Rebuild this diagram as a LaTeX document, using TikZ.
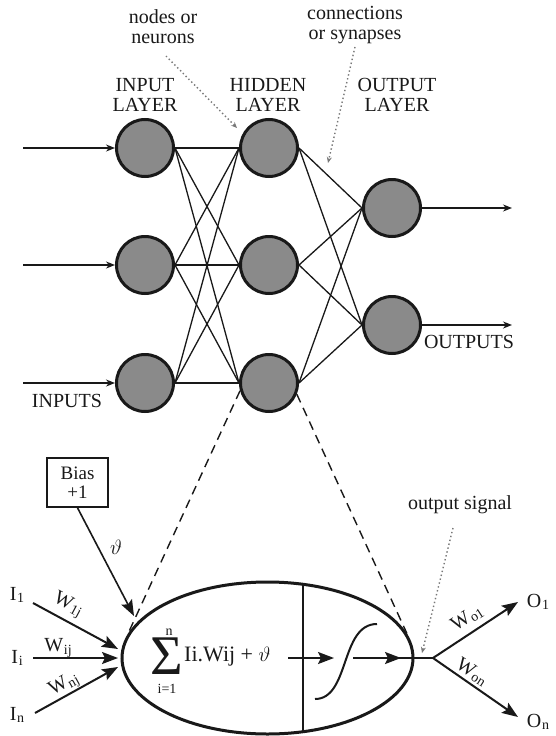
\documentclass[tikz,border=0pt]{standalone}
\usepackage{fontspec}
\setmainfont{Liberation Serif}
\usetikzlibrary{arrows.meta,shapes.geometric}
\definecolor{ink}{RGB}{25,25,25}
\definecolor{nodegray}{RGB}{138,138,138}
\definecolor{dotgray}{RGB}{120,120,120}
\newcommand{\fs}[1]{\fontsize{#1}{#1}\selectfont}
\newcommand{\lowtxt}[1]{\kern0.8pt\raisebox{-0.25ex}{\fontsize{14}{14}\selectfont #1}}
\begin{document}
\begin{tikzpicture}[x=1pt,y=-1pt,
  neuron/.style={circle, draw=ink, fill=nodegray, line width=3pt, minimum size=57pt, inner sep=0pt},
  lbl/.style={font=\fs{20}, text=ink, align=center, inner sep=0pt},
  conn/.style={draw=ink, line width=1.3pt},
  inarrow/.style={draw=ink, line width=1.5pt, -{Stealth[length=9pt,width=7pt]}},
  bigarrow/.style={draw=ink, line width=2pt, -{Stealth[length=16pt,width=12pt,inset=3pt]}},
  dotarrow/.style={draw=dotgray, line width=1.4pt, dash pattern=on 1.4pt off 2.6pt, -{Stealth[length=6pt,width=5pt]}},
  dashline/.style={draw=ink, line width=1.4pt, dash pattern=on 9pt off 6pt}]
\path[fill=white] (0,0) rectangle (555,736);
\useasboundingbox (0,0) rectangle (555,736);

% top labels
\node[lbl] (tnodes) at (163,27) {nodes or\\neurons};
\node[lbl] (tconn) at (355,25) {connections\\or synapses};
\node[lbl] (tin) at (145,95) {INPUT\\LAYER};
\node[lbl] (thid) at (268,95) {HIDDEN\\LAYER};
\node[lbl] (tout) at (397,95) {OUTPUT\\LAYER};
\node[lbl] (tinputs) at (67,401) {INPUTS};
\node[lbl] (toutputs) at (469,342) {OUTPUTS};

% neurons
\node[neuron] (i1) at (145,148) {};
\node[neuron] (i2) at (145,265) {};
\node[neuron] (i3) at (145,383) {};
\node[neuron] (h1) at (269,148) {};
\node[neuron] (h2) at (269,265) {};
\node[neuron] (h3) at (269,383) {};
\node[neuron] (o1) at (392,208) {};
\node[neuron] (o2) at (392,325) {};

\foreach \a in {i1,i2,i3} \foreach \b in {h1,h2,h3} \draw[conn] (\a.east) -- (\b.west);
\foreach \a in {h1,h2,h3} \foreach \b in {o1,o2} \draw[conn] (\a.east) -- (\b.west);

\coordinate (s1) at (23,148);
\coordinate (s2) at (23,265);
\coordinate (s3) at (23,383);
\draw[inarrow] (s1) -- (i1.west);
\draw[inarrow] (s2) -- (i2.west);
\draw[inarrow] (s3) -- (i3.west);
\coordinate (e1) at (512,208);
\coordinate (e2) at (512,325);
\draw[inarrow] (o1.east) -- (e1);
\draw[inarrow] (o2.east) -- (e2);

% dotted pointers
\coordinate (dns) at (166,56);
\coordinate (dne) at (237,128);
\draw[dotarrow] (dns) -- (dne);
\coordinate (dcs) at (355,47);
\coordinate (dce) at (328,163);
\draw[dotarrow] (dcs) -- (dce);

% neuron detail
\node[ellipse, draw=ink, line width=3pt, minimum width=291pt, minimum height=152pt, inner sep=0pt] (cell) at (267.5,658) {};
\begin{scope}
\clip (267.5,658) ellipse [x radius=145.5pt, y radius=76pt];
\draw[ink, line width=1.6pt] (303,560) -- (303,760);
\end{scope}
\draw[dashline] (h3.195) -- (cell.170);
\draw[dashline] (h3.-22) -- (cell.10);

% bias
\node[lbl, draw=ink, line width=1.6pt, minimum width=61pt, minimum height=49pt, font=\fs{19}] (bias) at (77.5,482.5) {Bias\\+1};
\coordinate (bt) at (134,616);
\draw[bigarrow, line width=1.6pt] (bias.south) -- (bt);
\node[lbl, font=\fs{22}] (theta) at (116,547) {$\vartheta$};

% inputs
\node[lbl] (I1) at (17,595) {I\lowtxt{1}};
\node[lbl] (Ii) at (17,658) {I\lowtxt{i}};
\node[lbl] (In) at (17,715) {I\lowtxt{n}};
\coordinate (p1) at (33,603);
\coordinate (p2) at (33,658);
\coordinate (p3) at (35,713);
\coordinate (t1) at (118,649);
\coordinate (t2) at (118,658);
\coordinate (t3) at (118,667);
\draw[bigarrow] (p1) -- (t1);
\draw[bigarrow] (p2) -- (t2);
\draw[bigarrow] (p3) -- (t3);
\node[lbl, rotate=-28] (w1) at (68,605) {W\lowtxt{1j}};
\node[lbl] (w2) at (58,648) {W\lowtxt{ij}};
\node[lbl, rotate=29] (w3) at (64,685) {W\lowtxt{nj}};

% sum
\node[lbl, font=\fs{56}] (sig) at (167,656) {Σ};
\node[lbl, font=\fs{14}] (sn) at (169,632) {n};
\node[lbl, font=\fs{14}] (si) at (167,689) {i=1};
\node[lbl, font=\fs{22}, anchor=west] (form) at (184,657) {Ii.Wij + $\vartheta$};

\coordinate (a1s) at (288,658);
\coordinate (a1e) at (334,658);
\draw[bigarrow] (a1s) -- (a1e);
\draw[ink, line width=2pt] (315,699) .. controls (350,699) and (340,624) .. (377,624);
\coordinate (a2s) at (353,658);
\coordinate (a2e) at (401,658);
\coordinate (br) at (433,658);
\draw[ink, line width=2pt] (a2s) -- (br);
\draw[bigarrow] (a2s) -- (a2e);

% outputs
\coordinate (o1t) at (518,602);
\coordinate (ont) at (518,717);
\draw[bigarrow] (br) -- (o1t);
\draw[bigarrow] (br) -- (ont);
\node[lbl] (O1) at (538,602) {O\lowtxt{1}};
\node[lbl] (On) at (538,722) {O\lowtxt{n}};
\node[lbl, rotate=33] (wo1) at (467,618) {W\lowtxt{o1}};
\node[lbl, rotate=-33] (won) at (472,672) {W\lowtxt{on}};

\node[lbl] (tsig) at (460,505) {output signal};
\coordinate (dss) at (453,528);
\coordinate (dse) at (422,653);
\draw[dotarrow] (dss) -- (dse);
\end{tikzpicture}
\end{document}
